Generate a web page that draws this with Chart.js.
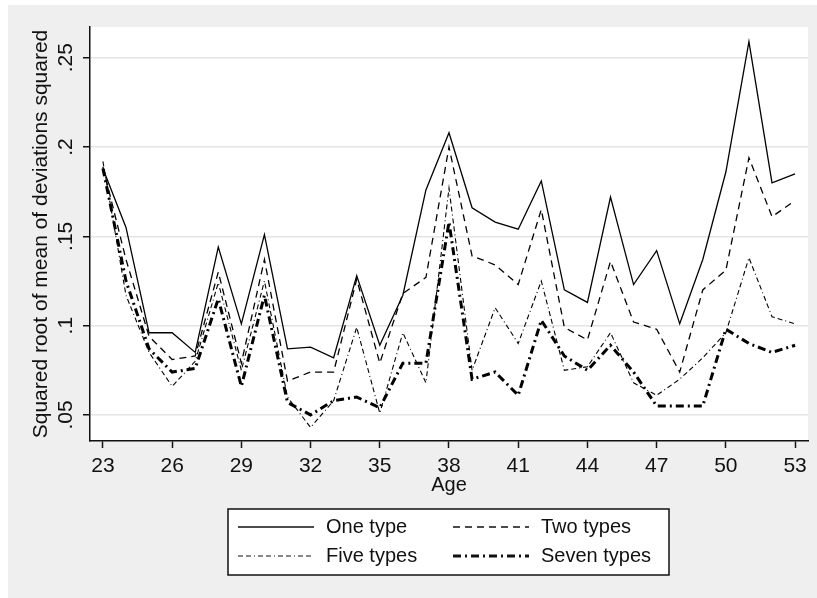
<!DOCTYPE html>
<html>
<head>
<meta charset="utf-8">
<script src="https://cdn.jsdelivr.net/npm/chart.js@4.4.1/dist/chart.umd.min.js"></script>
<style>
  body { margin: 0; background: #fff; }
  #wrap { position: absolute; left: 8px; top: 5px; width: 809px; height: 593px; background: #efefef; }
</style>
</head>
<body>
<div id="wrap"><canvas id="myChart" width="809" height="593"></canvas></div>
<script>
const ages = [23,24,25,26,27,28,29,30,31,32,33,34,35,36,37,38,39,40,41,42,43,44,45,46,47,48,49,50,51,52,53];
const oneType = [0.188,0.155,0.096,0.096,0.085,0.144,0.101,0.151,0.087,0.088,0.082,0.128,0.089,0.117,0.176,0.208,0.166,0.158,0.154,0.181,0.120,0.113,0.172,0.123,0.142,0.101,0.137,0.186,0.259,0.180,0.185];
const twoTypes = [0.189,0.137,0.094,0.081,0.083,0.130,0.079,0.137,0.069,0.074,0.074,0.126,0.079,0.118,0.127,0.200,0.139,0.134,0.123,0.165,0.099,0.092,0.136,0.102,0.098,0.074,0.120,0.131,0.194,0.161,0.170];
const fiveTypes = [0.192,0.117,0.085,0.066,0.080,0.124,0.075,0.125,0.060,0.043,0.058,0.099,0.051,0.096,0.068,0.177,0.075,0.110,0.090,0.125,0.075,0.077,0.096,0.068,0.061,0.070,0.082,0.096,0.138,0.105,0.101];
const sevenTypes = [0.188,0.125,0.087,0.074,0.076,0.115,0.066,0.117,0.057,0.050,0.058,0.060,0.054,0.079,0.079,0.158,0.070,0.074,0.061,0.103,0.083,0.075,0.089,0.074,0.055,0.055,0.055,0.098,0.090,0.085,0.089];
const xTicks = [23,26,29,32,35,38,41,44,47,50,53];
const yTicks = [0.05,0.1,0.15,0.2,0.25];
const seriesNames = ['One type','Two types','Five types','Seven types'];

const FONT = 'Liberation Sans, Arial, sans-serif';
const INK = '#111';

const lineStyles = [
  { borderWidth: 1.3, borderDash: [] },
  { borderWidth: 1.3, borderDash: [7, 5] },
  { borderWidth: 1.1, borderDash: [5, 3, 5, 3, 1, 3] },
  { borderWidth: 3, borderDash: [8, 4, 2, 4] }
];

function pts(vals) {
  return ages.map((a, i) => ({ x: a, y: vals[i] }));
}

// white plot region + stata style legend box
const plotBg = {
  id: 'plotBg',
  beforeDraw(chart) {
    const { ctx, chartArea: a } = chart;
    ctx.save();
    ctx.fillStyle = '#fff';
    ctx.fillRect(a.left, a.top, a.right - a.left, a.bottom - a.top);
    ctx.restore();
  },
  afterDraw(chart) {
    const { ctx, chartArea: a } = chart;
    const cx = (a.left + a.right) / 2;
    const bx = cx - 221, by = 504, bw = 441, bh = 66;
    ctx.save();
    ctx.fillStyle = '#fff';
    ctx.fillRect(bx, by, bw, bh);
    ctx.strokeStyle = INK;
    ctx.lineWidth = 1.5;
    ctx.strokeRect(bx, by, bw, bh);
    ctx.font = '20px ' + FONT;
    ctx.textBaseline = 'middle';
    ctx.fillStyle = INK;
    seriesNames.forEach((name, i) => {
      const col = i % 2, row = Math.floor(i / 2);
      const sx = bx + 10 + col * 215;
      const sy = by + 18 + row * 29;
      ctx.beginPath();
      ctx.lineWidth = lineStyles[i].borderWidth;
      ctx.setLineDash(lineStyles[i].borderDash);
      ctx.moveTo(sx, sy);
      ctx.lineTo(sx + 76, sy);
      ctx.stroke();
      ctx.setLineDash([]);
      ctx.fillText(name, sx + 88, sy);
    });
    ctx.restore();
  }
};

const ctx = document.getElementById('myChart');
const chart = new Chart(ctx, {
  type: 'line',
  data: {
    datasets: [oneType, twoTypes, fiveTypes, sevenTypes].map((vals, i) => ({
      label: seriesNames[i],
      data: pts(vals),
      borderColor: '#000',
      borderWidth: lineStyles[i].borderWidth,
      borderDash: lineStyles[i].borderDash,
      pointRadius: 0,
      tension: 0,
      fill: false
    }))
  },
  options: {
    responsive: false,
    animation: false,
    devicePixelRatio: 1,
    layout: { padding: { top: 22, right: 9, left: 0, bottom: 0 } },
    plugins: {
      legend: { display: false },
      tooltip: { enabled: false }
    },
    scales: {
      x: {
        type: 'linear',
        min: 22.44,
        max: 53.56,
        afterBuildTicks: s => { s.ticks = xTicks.map(v => ({ value: v })); },
        afterFit: s => { s.height = 157; },
        grid: { drawOnChartArea: false, tickColor: INK, tickLength: 7, tickWidth: 1.5 },
        border: { color: INK, width: 1.5 },
        ticks: { color: INK, font: { family: FONT, size: 21 }, padding: 6, maxRotation: 0 },
        title: { display: true, text: 'Age', color: INK, font: { family: FONT, size: 20 }, padding: { top: 0, bottom: 101 } }
      },
      y: {
        min: 0.0354,
        max: 0.2672,
        afterBuildTicks: s => { s.ticks = yTicks.map(v => ({ value: v })); },
        afterFit: s => { s.width = 82; },
        grid: { color: '#e4e4e4', lineWidth: 1.5, tickColor: INK, tickLength: 7, tickWidth: 1.5 },
        border: { color: INK, width: 1.5 },
        ticks: {
          color: INK,
          font: { family: FONT, size: 21 },
          minRotation: 90,
          maxRotation: 90,
          crossAlign: 'center',
          padding: 2,
          callback: v => String(v).replace(/^0/, '')
        },
        title: { display: true, text: 'Squared root of mean of deviations squared', color: INK, font: { family: FONT, size: 21 }, padding: { top: 21, bottom: 0 } }
      }
    }
  },
  plugins: [plotBg]
});
</script>
</body>
</html>
